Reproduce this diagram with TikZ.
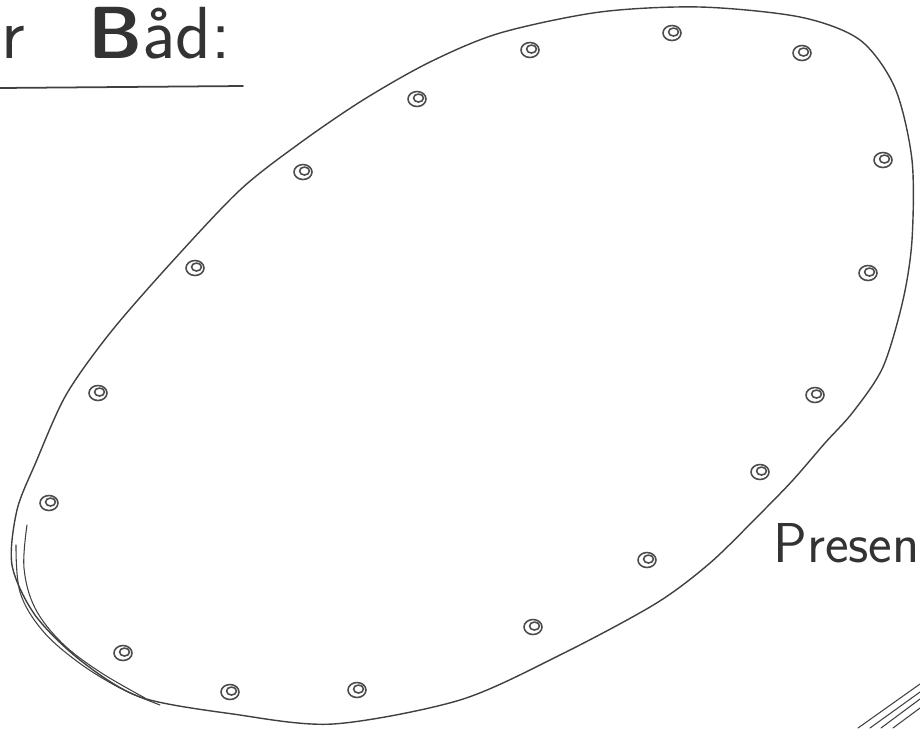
\documentclass[tikz,border=0pt]{standalone}
\usetikzlibrary{calc}

\begin{document}
\begin{tikzpicture}[x=0.02cm,y=-0.02cm,line cap=round,line join=round,
    pen/.style={draw=black!75,line width=0.8pt},
    ring/.style={draw=black!70,line width=0.9pt},
    hand/.style={text=black!80,inner sep=0pt,font=\sffamily}]
  \useasboundingbox (0,0) rectangle (920,728);
  \begin{scope}
    \clip (0,0) rectangle (920,728);
    % 标题
    \node[hand,font=\sffamily\fontsize{42}{50}\selectfont,anchor=base west] (cut) at (1,58) {r};
    \node[hand,font=\sffamily\fontsize{42}{50}\selectfont,anchor=base west] (title) at (88,58) {{\bfseries B}åd:};
    \draw[pen,line width=1pt] (0,88) -- (243,86);
    % 船底轮廓
    \draw[pen] plot[smooth cycle,tension=0.5] coordinates {
      (700,7) (800,17) (860,40) (895,88) (912,160) (912,240)
      (903,300) (883,367) (853,412) (825,443) (793,480) (760,514)
      (710,563) (655,604) (560,655) (460,700) (333,724) (233,714)
      (140,697) (80,660) (35,615) (12,565) (17,510) (36,462) (66,395)
      (110,333) (170,264) (240,190) (300,143) (363,100) (430,62)
      (500,33) (600,12)};
    % 左下重描
    \draw[pen,line width=0.6pt] plot[smooth,tension=0.6] coordinates {
      (27,525) (24,568) (35,608) (62,643) (100,672) (145,698)};
    \draw[pen,line width=0.6pt] plot[smooth,tension=0.6] coordinates {
      (16,545) (20,592) (42,630) (78,662) (120,688) (160,705)};
    % 孔
    \foreach \x/\y in {530/50,672/33,802/53,883/160,868/273,815/395,
        760/472,647/560,533/627,357/690,230/692,123/653,49/503,
        98/393,195/268,303/172,417/99} {
      \draw[ring] (\x,\y) ellipse (0.18cm and 0.15cm);
      \draw[ring] (\x+1.5,\y-1) ellipse (0.1cm and 0.08cm);
    }
    % 右侧文字
    \node[hand,font=\sffamily\fontsize{32}{38}\selectfont,anchor=base west] (cover) at (773,562) {Presen};
    % 右下角
    \foreach \a/\b in {858/684,870/692,881/699,893/708} {
      \draw[pen,line width=0.6pt] (\a,728) -- (920,\b);
    }
  \end{scope}
\end{tikzpicture}
\end{document}
